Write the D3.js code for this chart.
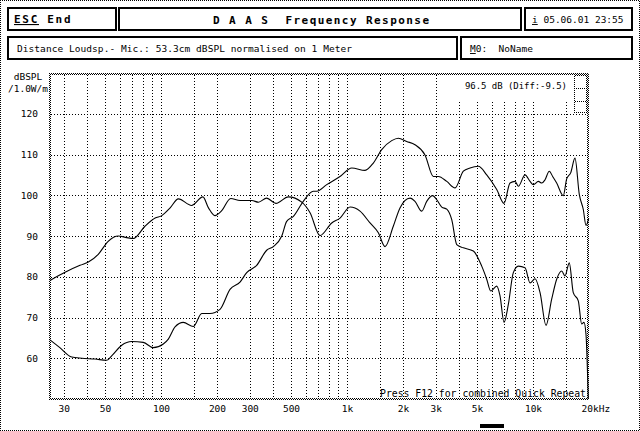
<!DOCTYPE html>
<html>
<head>
<meta charset="utf-8">
<script src="https://cdn.jsdelivr.net/npm/d3@7"></script>
<style>
  body { margin: 0; background: #fff; }
  svg { display: block; }
  text { font-family: "DejaVu Sans Mono", monospace; fill: #000; white-space: pre; }
</style>
</head>
<body>
<div id="chart"></div>
<script>
// curve A: the one that is high in the bass and falls off above 3k
var freqA = [25.3, 30.5, 36.7, 40.7, 46, 52, 59, 65.4, 71, 82, 93, 101, 112, 124, 146, 168, 180, 195, 212, 237,
  266, 308, 334, 370, 415, 484, 571, 633, 716, 828, 917, 1039, 1175, 1330, 1474, 1601, 1774, 1927, 2182, 2320,
  2522, 2683, 2891, 3038, 3232, 3438, 3657, 3890, 4222, 4778, 5300, 5638, 5924, 6382, 6648, 6985, 7368, 7838,
  8338, 9062, 9640, 10256, 10912, 11749, 12600, 13405, 14263, 14856, 15668, 16463, 17516, 18270, 18795, 19270,
  19584, 19830];
var dbA = [79.1, 81.1, 82.8, 83.6, 85.5, 88.7, 90, 89.6, 89.4, 92.4, 94.4, 95, 96.9, 99.1, 97.5, 99.6, 96.9, 95, 96.2, 99.2,
  98.7, 98.7, 98.3, 99.3, 98, 99.6, 98.3, 95.7, 90.1, 93.2, 94.4, 97.1, 96.1, 93.2, 90.8, 87.4, 92.4, 96.9, 99.3, 98.5,
  96.1, 98.5, 99.9, 98.9, 97.1, 96.6, 94, 87.9, 87.1, 86.3, 82.6, 79.4, 76.5, 77.7, 75.3, 68.8, 73.2, 81,
  82.6, 82.2, 78.5, 79.5, 76.1, 68.1, 74.5, 79.4, 81.4, 80.2, 83.4, 76.1, 74.1, 68.4, 68.8, 65.9,
  58.1, 50];

// curve B: low in the bass, peaks around 2k
var freqB = [25.3, 28.6, 33.1, 37.5, 44.2, 51.1, 54.3, 61.5, 69.6, 80.3, 90.9, 102.9, 109.5, 119, 131.8, 149.2, 165.6,
  183.4, 207.7, 235, 266, 289, 327, 370, 402, 446, 474, 515, 582, 659, 688, 778, 917, 1061, 1250, 1385, 1537, 1739,
  1887, 2094, 2320, 2627, 2912, 3099, 3438, 3810, 4222, 4586, 5082, 5638, 6382, 6985, 7524, 8005, 8338, 9062, 9640,
  10043, 10684, 11144, 11605, 12232, 12757, 13405, 14548, 15171, 15941, 16816, 17735, 18636, 19270, 19926];
var dbB = [64.5, 62.6, 60.3, 60, 59.8, 59.5, 60.6, 63.2, 64.1, 63.9, 62.6, 63.5, 64.7, 67.7, 68.8, 67.8, 71,
  71, 72, 76.9, 78.7, 81, 82.8, 86.5, 87.4, 90, 93.6, 94.8, 98.5, 101, 101, 102.6, 104.6, 106.7, 106.1, 107.9, 111.2, 113.4,
  114, 113.2, 112.4, 109.9, 104.6, 104.6, 103.4, 101.8, 105.9, 106.7, 107.1, 105, 101.4, 98, 103, 103.4, 102.2, 105, 103.4,
  102.6, 103.4, 103, 103.8, 105.9, 104.6, 103, 99.9, 104, 105.5, 109.1, 100.2, 96.5, 92.6, 94.4];

var gridFreqs = [30, 40, 50, 60, 70, 80, 90, 100, 150, 200, 300, 400, 500, 600, 700, 800, 900,
  1000, 1500, 2000, 3000, 4000, 5000, 6000, 7000, 8000, 9000, 10000, 15000];
var tickFreqs = [30, 50, 100, 200, 300, 500, 1000, 2000, 3000, 5000, 10000, 20000];
var tickLabels = ["30", "50", "100", "200", "300", "500", "1k", "2k", "3k", "5k", "10k", "20k"];
var dbTicks = [60, 70, 80, 90, 100, 110, 120];

var width = 640,
    height = 431;

var svg = d3.select("#chart").append("svg")
    .attr("width", width)
    .attr("height", height);

// 1px checker pattern, like the old screen dither
var defs = svg.append("defs");
var pat = defs.append("pattern")
    .attr("id", "chk")
    .attr("width", 2).attr("height", 2)
    .attr("patternUnits", "userSpaceOnUse");
pat.append("rect").attr("x", 0).attr("y", 0).attr("width", 1).attr("height", 1).attr("fill", "#000");
pat.append("rect").attr("x", 1).attr("y", 1).attr("width", 1).attr("height", 1).attr("fill", "#000");

// outer frame
svg.append("rect")
    .attr("x", 0.5).attr("y", 0.5)
    .attr("width", 639).attr("height", 430)
    .attr("fill", "none")
    .attr("stroke", "url(#chk)");

// header boxes
var boxes = [
  [8, 8, 108, 22], [119, 8, 402, 22], [525, 8, 107, 22],
  [8, 37, 449, 22], [461, 37, 171, 22]
];
svg.selectAll(".hbox")
    .data(boxes)
    .enter().append("rect")
    .attr("class", "hbox")
    .attr("x", function(d) { return d[0]; })
    .attr("y", function(d) { return d[1]; })
    .attr("width", function(d) { return d[2]; })
    .attr("height", function(d) { return d[3]; })
    .attr("fill", "none")
    .attr("stroke", "#000")
    .attr("stroke-width", 2);

var esc = svg.append("text")
    .attr("x", 14).attr("y", 23)
    .style("font-size", "11px")
    .style("font-weight", "bold")
    .style("letter-spacing", "1.7px");
esc.append("tspan").style("text-decoration", "underline").text("ESC");
esc.append("tspan").text(" End");

svg.append("text")
    .attr("x", 213).attr("y", 24)
    .attr("textLength", 216)
    .style("font-size", "11px")
    .style("font-weight", "bold")
    .text("D A A S  Frequency Response");

var dt = svg.append("text")
    .attr("x", 532).attr("y", 23)
    .style("font-size", "9.5px");
dt.append("tspan").style("text-decoration", "underline").text("i");
dt.append("tspan").text(" 05.06.01 23:55");

svg.append("text")
    .attr("x", 17).attr("y", 52)
    .attr("textLength", 335)
    .style("font-size", "9.5px")
    .text("Distance Loudsp.- Mic.: 53.3cm dBSPL normalised on 1 Meter");

var mo = svg.append("text")
    .attr("x", 470).attr("y", 52)
    .style("font-size", "9.5px");
mo.append("tspan").style("text-decoration", "underline").text("M");
mo.append("tspan").text("0:  NoName");

// plot
var x = d3.scaleLog()
    .domain([25, 20000])
    .range([49, 589]);

var y = d3.scaleLinear()
    .domain([50, 130])
    .range([399, 73]);

var plot = svg.append("g");

// vertical grid
plot.selectAll(".vgrid")
    .data(gridFreqs)
    .enter().append("line")
    .attr("class", "vgrid")
    .attr("x1", function(d) { return Math.round(x(d)) + 0.5; })
    .attr("x2", function(d) { return Math.round(x(d)) + 0.5; })
    .attr("y1", 75)
    .attr("y2", 398)
    .attr("stroke", "#000")
    .attr("stroke-dasharray", "1,2")
    .attr("shape-rendering", "crispEdges");

// horizontal grid
plot.selectAll(".hgrid")
    .data(dbTicks)
    .enter().append("line")
    .attr("class", "hgrid")
    .attr("x1", 51)
    .attr("x2", 587)
    .attr("y1", function(d) { return Math.round(y(d)) + 0.5; })
    .attr("y2", function(d) { return Math.round(y(d)) + 0.5; })
    .attr("stroke", "#000")
    .attr("stroke-dasharray", "1,2")
    .attr("shape-rendering", "crispEdges");

// curves
var line = d3.line()
    .x(function(d) { return x(d[0]); })
    .y(function(d) { return y(d[1]); })
    .curve(d3.curveMonotoneX);

plot.append("path")
    .datum(d3.zip(freqA, dbA))
    .attr("d", line)
    .attr("fill", "none")
    .attr("stroke", "#000")
    .attr("stroke-width", 1.1);

plot.append("path")
    .datum(d3.zip(freqB, dbB))
    .attr("d", line)
    .attr("fill", "none")
    .attr("stroke", "#000")
    .attr("stroke-width", 1.1);

// readout box top right (hides the grid under it)
plot.append("rect")
    .attr("x", 441).attr("y", 75)
    .attr("width", 146).attr("height", 26)
    .attr("fill", "#fff");

plot.append("text")
    .attr("x", 465).attr("y", 89)
    .attr("textLength", 102)
    .style("font-size", "9px")
    .text("96.5 dB (Diff:-9.5)");

// little scroll marker at the right edge
plot.append("rect")
    .attr("x", 574.5).attr("y", 75.5)
    .attr("width", 12).attr("height", 37)
    .attr("fill", "none")
    .attr("stroke", "url(#chk)");
[88, 101].forEach(function(v) {
  plot.append("line")
      .attr("x1", 575).attr("x2", 586)
      .attr("y1", v + 0.5).attr("y2", v + 0.5)
      .attr("stroke", "url(#chk)");
});

// plot frame
plot.append("rect")
    .attr("x", 50).attr("y", 74)
    .attr("width", 538).attr("height", 325)
    .attr("fill", "none")
    .attr("stroke", "url(#chk)")
    .attr("stroke-width", 2);

plot.append("text")
    .attr("x", 380).attr("y", 397)
    .attr("textLength", 206)
    .style("font-size", "9.8px")
    .text("Press F12 for combined Quick Repeat");

// y axis labels
var yAxis = d3.axisLeft(y)
    .tickValues(dbTicks)
    .tickSize(0)
    .tickPadding(0);

var gy = svg.append("g")
    .attr("transform", "translate(38,0)")
    .call(yAxis);
gy.select(".domain").remove();
gy.selectAll("text")
    .style("font-family", "DejaVu Sans Mono, monospace")
    .style("font-size", "9.5px");

svg.append("text")
    .attr("x", 28).attr("y", 80)
    .attr("text-anchor", "middle")
    .style("font-size", "9.5px")
    .text("dBSPL");
svg.append("text")
    .attr("x", 28).attr("y", 92)
    .attr("text-anchor", "middle")
    .style("font-size", "9.5px")
    .text("/1.0W/m");

// x axis labels
var xAxis = d3.axisBottom(x)
    .tickValues(tickFreqs)
    .tickSize(0)
    .tickPadding(0)
    .tickFormat(function(d, i) { return tickLabels[i]; });

var gx = svg.append("g")
    .attr("transform", "translate(0,405)")
    .call(xAxis);
gx.select(".domain").remove();
gx.selectAll("text")
    .style("font-family", "DejaVu Sans Mono, monospace")
    .style("font-size", "9.5px");
// unit after the last label
gx.selectAll(".tick").filter(function(d) { return d === 20000; })
    .select("text")
    .attr("text-anchor", "start")
    .attr("x", -8)
    .append("tspan").text("Hz");

// black marker under the axis
svg.append("rect")
    .attr("x", 480).attr("y", 424)
    .attr("width", 24).attr("height", 4)
    .attr("fill", "#000");
</script>
</body>
</html>
